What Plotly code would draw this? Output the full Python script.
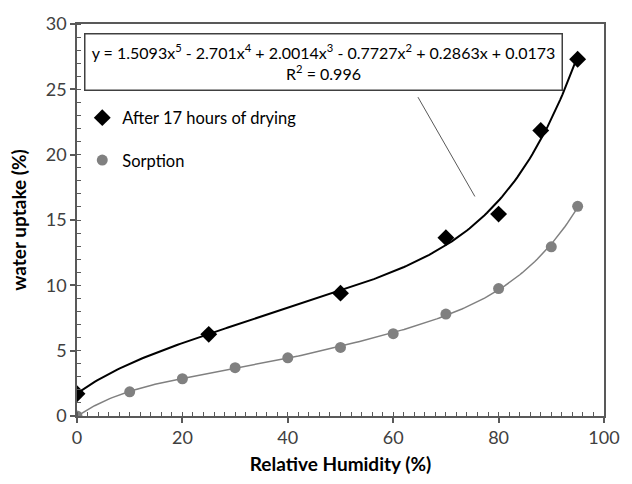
import numpy as np
import plotly.graph_objects as go

# Data
rh_dry = [0, 25, 50, 70, 80, 88, 95]
uptake_dry = [1.7, 6.25, 9.4, 13.65, 15.45, 21.85, 27.3]
rh_sorp = [0, 10, 20, 30, 40, 50, 60, 70, 80, 90, 95]
uptake_sorp = [0.0, 1.85, 2.85, 3.7, 4.45, 5.25, 6.3, 7.8, 9.75, 12.95, 16.05]
# trendline coefficients shown in the chart (x, y as fractions), highest power first
dry_coeffs = [1.5093, -2.701, 2.0014, -0.7727, 0.2863, 0.0173]

FONT = "Lato"

# trendlines
xs = np.linspace(0, 95, 200)
y_dry_fit = np.polyval(dry_coeffs, xs / 100) * 100
sorp_coeffs = np.polyfit(np.array(rh_sorp) / 100, np.array(uptake_sorp) / 100, 5)
y_sorp_fit = np.polyval(sorp_coeffs, xs / 100) * 100

fig = go.Figure()
fig.add_trace(go.Scatter(x=xs, y=y_sorp_fit, mode="lines",
                         line=dict(color="#808080", width=1.5), showlegend=False, hoverinfo="skip"))
fig.add_trace(go.Scatter(x=xs, y=y_dry_fit, mode="lines",
                         line=dict(color="#000000", width=2), showlegend=False, hoverinfo="skip"))
fig.add_trace(go.Scatter(x=rh_dry, y=uptake_dry, mode="markers", name="After 17 hours of drying",
                         legendgroup="a",
                         marker=dict(symbol="diamond", size=13, color="#000000")))
fig.add_trace(go.Scatter(x=rh_sorp, y=uptake_sorp, mode="markers", name="Sorption",
                         legendgroup="b",
                         marker=dict(symbol="circle", size=11, color="#808080")))

eq = ("y = 1.5093x<sup>5</sup> - 2.701x<sup>4</sup> + 2.0014x<sup>3</sup> - 0.7727x<sup>2</sup>"
      " + 0.2863x + 0.0173<br>R<sup>2</sup> = 0.996")
fig.add_annotation(x=46.8, y=27.1, xref="x", yref="y", text=eq, showarrow=False,
                   font=dict(family=FONT, size=16, color="#000000"), align="center",
                   bordercolor="#404040", borderwidth=1.5, bgcolor="white",
                   width=474, height=53, xanchor="center", yanchor="middle")
fig.add_shape(type="line", x0=64.7, y0=24.4, x1=75.5, y1=16.8, xref="x", yref="y",
              line=dict(color="#595959", width=1))

axis_common = dict(showline=True, linecolor="#595959", linewidth=1.5, mirror=True,
                   showgrid=False, zeroline=False, ticks="outside", ticklen=5,
                   tickcolor="#595959", tickwidth=1.5,
                   tickfont=dict(family=FONT, size=18, color="#404040"))

fig.update_xaxes(range=[0, 100], tick0=0, dtick=20,
                 minor=dict(dtick=2, ticks="inside", ticklen=4, tickcolor="#595959", tickwidth=1),
                 title=dict(text="<b>Relative Humidity (%)</b>", font=dict(family=FONT, size=19, color="#000000"),
                            standoff=10),
                 **axis_common)
fig.update_yaxes(range=[0, 30], tick0=0, dtick=5,
                 minor=dict(dtick=1, ticks="inside", ticklen=4, tickcolor="#595959", tickwidth=1),
                 title=dict(text="<b>water uptake (%)</b>", font=dict(family=FONT, size=19, color="#000000"),
                            standoff=14),
                 **axis_common)

fig.update_layout(
    width=632, height=484,
    margin=dict(l=77, r=16, t=21, b=62),
    paper_bgcolor="white", plot_bgcolor="white",
    font=dict(family=FONT),
    showlegend=True,
    legend=dict(x=0.01, y=0.805, xanchor="left", yanchor="top",
                font=dict(family=FONT, size=16.5, color="#000000"),
                bgcolor="rgba(0,0,0,0)", tracegroupgap=18, traceorder="grouped",
                itemwidth=30),
)

fig.write_html("out.html")
